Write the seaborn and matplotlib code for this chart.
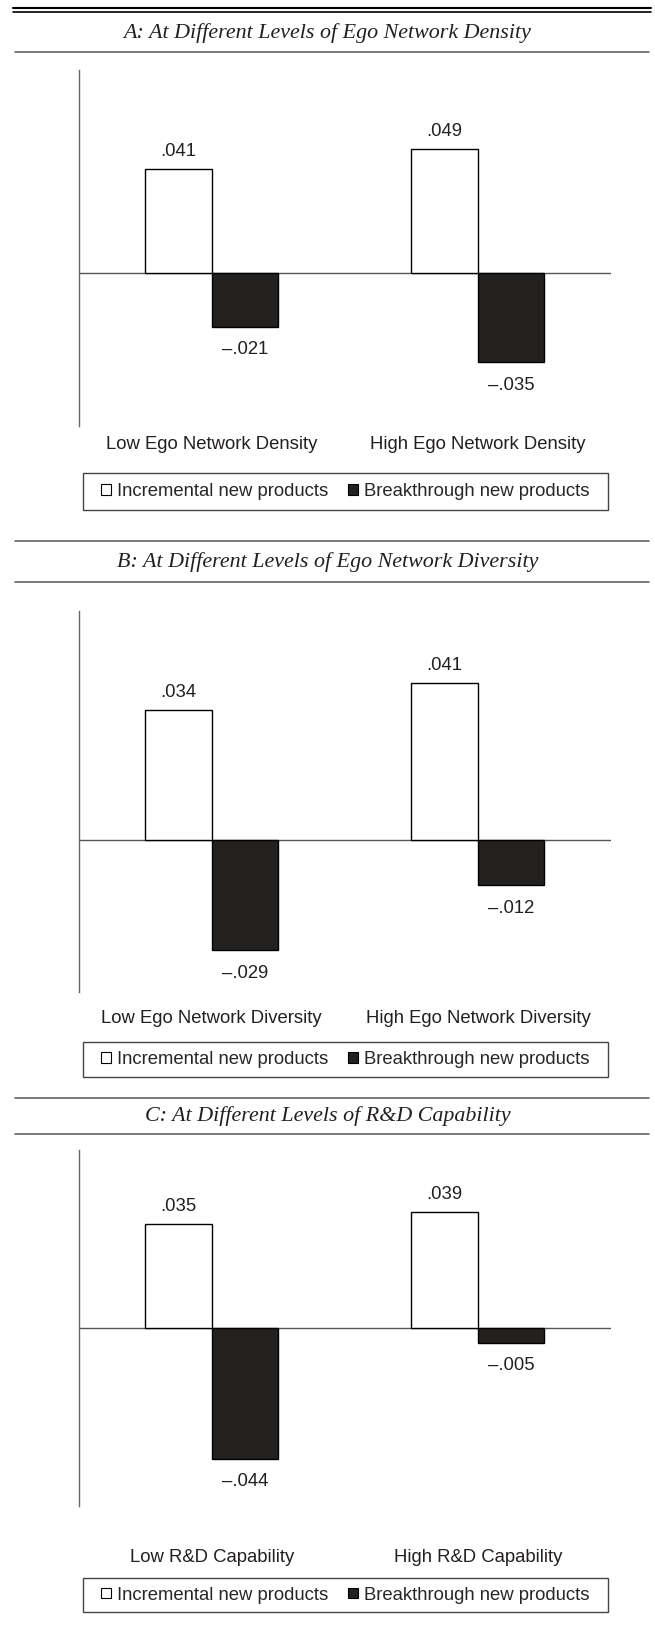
import matplotlib
matplotlib.use("Agg")
import matplotlib.pyplot as plt
import seaborn as sns
import pandas as pd
from matplotlib.lines import Line2D
from matplotlib.patches import Rectangle

# data
types = ["Incremental new products", "Breakthrough new products"]
titles = ["A: At Different Levels of Ego Network Density",
          "B: At Different Levels of Ego Network Diversity",
          "C: At Different Levels of R&D Capability"]
levels_a = ["Low Ego Network Density", "High Ego Network Density"]
levels_b = ["Low Ego Network Diversity", "High Ego Network Diversity"]
levels_c = ["Low R&D Capability", "High R&D Capability"]
incremental_a = [0.041, 0.049]
breakthrough_a = [-0.021, -0.035]
incremental_b = [0.034, 0.041]
breakthrough_b = [-0.029, -0.012]
incremental_c = [0.035, 0.039]
breakthrough_c = [-0.044, -0.005]
ylims = [(-0.06, 0.08), (-0.04, 0.06), (-0.06, 0.06)]

panels = [(levels_a, incremental_a, breakthrough_a),
          (levels_b, incremental_b, breakthrough_b),
          (levels_c, incremental_c, breakthrough_c)]

sns.set_style("white")
plt.rcParams["font.family"] = ["Liberation Sans", "DejaVu Sans"]

W, H = 655, 1638
fig = plt.figure(figsize=(W / 100, H / 100), dpi=100)

# layout in pixels: axes top/bottom, title y, rules, legend box top/bottom, label pad
layout = [
    dict(top=70, bot=426, title=33, line_above=None, line_below=52,
         leg=(473, 510), pad=7),
    dict(top=611, bot=992, title=562, line_above=541, line_below=582,
         leg=(1042, 1077), pad=13),
    dict(top=1150, bot=1506, title=1116, line_above=1098, line_below=1134,
         leg=(1578, 1612), pad=31),
]

def fmt(v):
    s = f"{abs(v):.3f}"[1:]
    return ("\u2013" + s) if v < 0 else s

palette = {types[0]: "white", types[1]: "#231f20"}
fs = 13.3

for (levels, inc, brk), lay, title, ylim in zip(panels, layout, titles, ylims):
    df = pd.DataFrame({
        "level": levels + levels,
        "type": [types[0]] * len(levels) + [types[1]] * len(levels),
        "effect": inc + brk,
    })
    left, right = 78.5, 611
    ax = fig.add_axes([left / W, 1 - lay["bot"] / H, (right - left) / W,
                       (lay["bot"] - lay["top"]) / H])
    sns.barplot(data=df, x="level", y="effect", hue="type", hue_order=types,
                order=levels, palette=palette, edgecolor="black", linewidth=1,
                width=0.5, errorbar=None, ax=ax, zorder=3)
    for cont, vals, pad in zip(ax.containers, [inc, brk], [6.5, 10.5]):
        ax.bar_label(cont, labels=[fmt(v) for v in vals], padding=pad,
                     fontsize=fs, color="#231f20")
    ax.axhline(0, color="#555555", lw=1, zorder=2)
    ax.set_xlim(-0.5, 1.5)
    ax.set_ylim(*ylim)
    ax.set_xlabel("")
    ax.set_ylabel("")
    ax.set_yticks([])
    ax.tick_params(axis="x", length=0, pad=lay["pad"], labelsize=fs,
                   labelcolor="#231f20")
    for s in ["top", "right", "bottom"]:
        ax.spines[s].set_visible(False)
    ax.spines["left"].set_color("#666666")
    ax.spines["left"].set_linewidth(1)

    handles, labels = ax.get_legend_handles_labels()
    ax.get_legend().remove()
    lx0, lx1 = 82.7, 608
    ly0, ly1 = lay["leg"]
    yc = 1 - (ly0 + ly1) / 2 / H
    leg = fig.legend(handles, labels, ncol=2, mode="expand",
                     loc="center left", borderaxespad=0,
                     bbox_to_anchor=(lx0 / W, yc, (lx1 - lx0) / W, 0.0),
                     fontsize=fs, handlelength=0.55, handleheight=0.47,
                     handletextpad=0.3, borderpad=1.0, columnspacing=1.0,
                     frameon=False)
    for h in leg.legend_handles:
        h.set_edgecolor("black")
        h.set_linewidth(0.8)
    fig.add_artist(Rectangle((lx0 / W, 1 - ly1 / H), (lx1 - lx0) / W,
                             (ly1 - ly0) / H, transform=fig.transFigure,
                             fill=False, edgecolor="#444444", lw=1))

    fig.text(0.5, 1 - lay["title"] / H, title, ha="center", va="center",
             family="Liberation Serif", style="italic", fontsize=15.8,
             color="#231f20")
    for y in [lay["line_above"], lay["line_below"]]:
        if y is not None:
            fig.add_artist(Line2D([15 / W, 649 / W], [1 - y / H] * 2,
                                  color="#555555", lw=1.1))

# double rule at the top
fig.add_artist(Line2D([12.7 / W, 651 / W], [1 - 7.7 / H] * 2, color="black", lw=1.5))
fig.add_artist(Line2D([12.7 / W, 651 / W], [1 - 11.8 / H] * 2, color="black", lw=1.2))

fig.savefig("out.png", dpi=100)
